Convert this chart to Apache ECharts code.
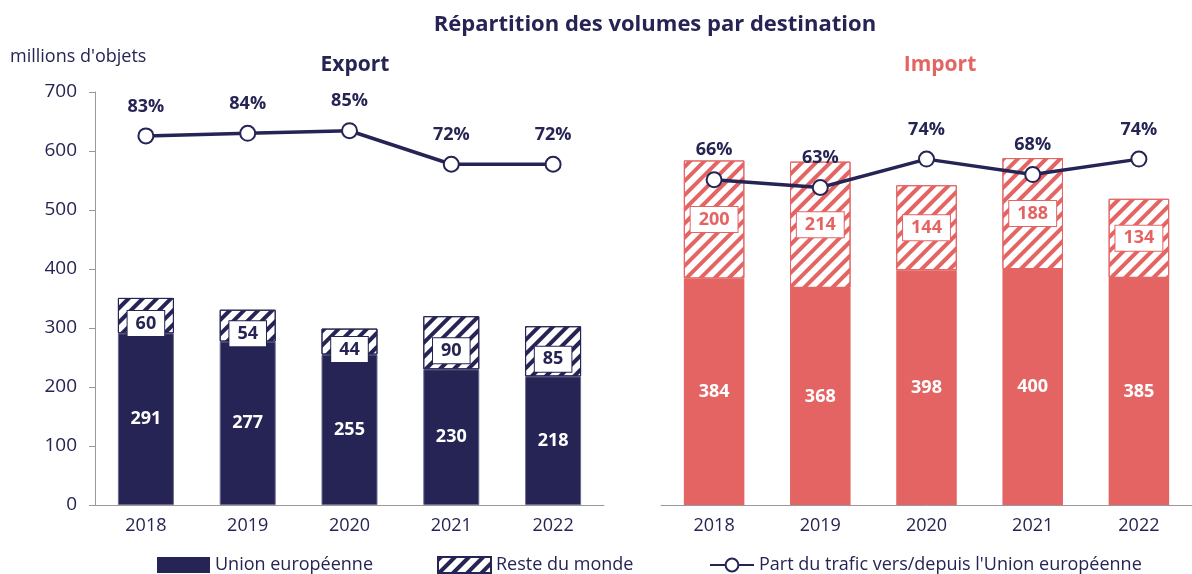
<!DOCTYPE html>
<html>
<head>
<meta charset="utf-8">
<script src="https://cdn.jsdelivr.net/npm/echarts@6/dist/echarts.min.js"></script>
<style>
  html, body { margin: 0; padding: 0; background: #fff; }
  #chart { width: 1192px; height: 574px; }
</style>
</head>
<body>
<div id="chart"></div>
<script>
// données
const years = ['2018', '2019', '2020', '2021', '2022']
const exportUE = [291, 277, 255, 230, 218]
const exportRdm = [60, 54, 44, 90, 85]
const exportPart = [83, 84, 85, 72, 72]
const importUE = [384, 368, 398, 400, 385]
const importRdm = [200, 214, 144, 188, 134]
const importPart = [66, 63, 74, 68, 74]

const navy = '#252454'
const salmon = '#e46464'
const font = 'Open Sans'

const hatch = (color) => ({
  symbol: 'rect',
  symbolSize: 1,
  color: color,
  dashArrayX: [1, 0],
  dashArrayY: [4, 6],
  rotation: -Math.PI / 4
})

const chart = echarts.init(document.getElementById('chart'))

const ueLabel = {
  show: true,
  position: 'inside',
  color: '#fff',
  fontFamily: font,
  fontWeight: 'bold',
  fontSize: 18
}

const boxLabel = (color, offset) => ({
  show: true,
  position: 'inside',
  offset: offset,
  color: color,
  fontFamily: font,
  fontWeight: 'bold',
  fontSize: 18,
  backgroundColor: '#fff',
  borderColor: color,
  borderWidth: 1,
  padding: [4, 8, 3, 8]
})

const partLabel = {
  show: true,
  position: 'top',
  distance: 12,
  formatter: '{c}%',
  color: navy,
  fontFamily: font,
  fontWeight: 'bold',
  fontSize: 18
}

const xAxisBase = {
  type: 'category',
  data: years,
  axisLine: { lineStyle: { color: '#999' } },
  axisTick: { length: 6, lineStyle: { color: '#999' } },
  axisLabel: { color: navy, fontFamily: font, fontSize: 18, margin: 12 }
}

const legendText = { color: navy, fontFamily: font, fontSize: 18 }

const option = {
  backgroundColor: '#fff',
  animation: false,
  title: [
    { text: 'Répartition des volumes par destination', left: 650, top: 9, textAlign: 'center',
      textStyle: { color: navy, fontFamily: font, fontWeight: 'bold', fontSize: 22 } },
    { text: 'Export', left: 350, top: 50, textAlign: 'center',
      textStyle: { color: navy, fontFamily: font, fontWeight: 'bold', fontSize: 21 } },
    { text: 'Import', left: 935, top: 50, textAlign: 'center',
      textStyle: { color: salmon, fontFamily: font, fontWeight: 'bold', fontSize: 21 } },
    { text: "millions d'objets", left: 5, top: 43,
      textStyle: { color: navy, fontFamily: font, fontWeight: 'normal', fontSize: 18 } }
  ],
  legend: [
    { left: 152, top: 551, itemWidth: 53, itemHeight: 16, itemGap: 6,
      data: [{ name: 'Union européenne', icon: 'rect', itemStyle: { borderWidth: 0 } }], textStyle: legendText },
    { left: 432, top: 551, itemWidth: 53, itemHeight: 16,
      data: [{ name: 'Reste du monde', icon: 'rect' }], textStyle: legendText },
    { left: 704, top: 551, itemWidth: 44, itemHeight: 16,
      data: ["Part du trafic vers/depuis l'Union européenne"], textStyle: legendText }
  ],
  grid: [
    { left: 95, width: 509, top: 92, bottom: 69 },
    { left: 661, width: 542, top: 92, bottom: 69 }
  ],
  xAxis: [
    Object.assign({ gridIndex: 0 }, xAxisBase),
    Object.assign({ gridIndex: 1 }, xAxisBase)
  ],
  yAxis: [
    { type: 'value', gridIndex: 0, min: 0, max: 700, interval: 100,
      axisLine: { show: true, lineStyle: { color: '#999' } },
      axisTick: { show: true, length: 6, lineStyle: { color: '#999' } },
      splitLine: { show: false },
      axisLabel: { color: navy, fontFamily: font, fontSize: 19, margin: 18 } },
    { type: 'value', gridIndex: 0, min: -60, max: 100, show: false, splitLine: { show: false } },
    { type: 'value', gridIndex: 1, min: 0, max: 700, show: false, splitLine: { show: false } },
    { type: 'value', gridIndex: 1, min: -60, max: 100, show: false, splitLine: { show: false } }
  ],
  series: [
    { name: 'Union européenne', type: 'bar', stack: 'exp', xAxisIndex: 0, yAxisIndex: 0,
      barWidth: '55%', data: exportUE,
      itemStyle: { color: navy, borderColor: '#6a6a8c', borderWidth: 1 }, label: ueLabel },
    { name: 'Reste du monde', type: 'bar', stack: 'exp', xAxisIndex: 0, yAxisIndex: 0,
      data: exportRdm,
      itemStyle: { color: '#fff', borderColor: navy, borderWidth: 1, decal: hatch(navy) },
      label: boxLabel(navy, [0, 8]) },
    { name: "Part du trafic vers/depuis l'Union européenne", type: 'line', xAxisIndex: 0, yAxisIndex: 1,
      data: exportPart, symbol: 'circle', symbolSize: 15,
      lineStyle: { color: navy, width: 3.5 },
      itemStyle: { color: '#fff', borderColor: navy, borderWidth: 2 }, label: partLabel, z: 5 },
    { name: 'Union européenne', type: 'bar', stack: 'imp', xAxisIndex: 1, yAxisIndex: 2,
      barWidth: '57%', data: importUE,
      itemStyle: { color: salmon }, label: ueLabel },
    { name: 'Reste du monde', type: 'bar', stack: 'imp', xAxisIndex: 1, yAxisIndex: 2,
      data: importRdm,
      itemStyle: { color: '#fff', borderColor: salmon, borderWidth: 1, decal: hatch(salmon) },
      label: boxLabel(salmon, [0, 0]) },
    { name: "Part du trafic vers/depuis l'Union européenne", type: 'line', xAxisIndex: 1, yAxisIndex: 3,
      data: importPart, symbol: 'circle', symbolSize: 15,
      lineStyle: { color: navy, width: 3.5 },
      itemStyle: { color: '#fff', borderColor: navy, borderWidth: 2 }, label: partLabel, z: 5 }
  ]
}

chart.setOption(option)
</script>
</body>
</html>
